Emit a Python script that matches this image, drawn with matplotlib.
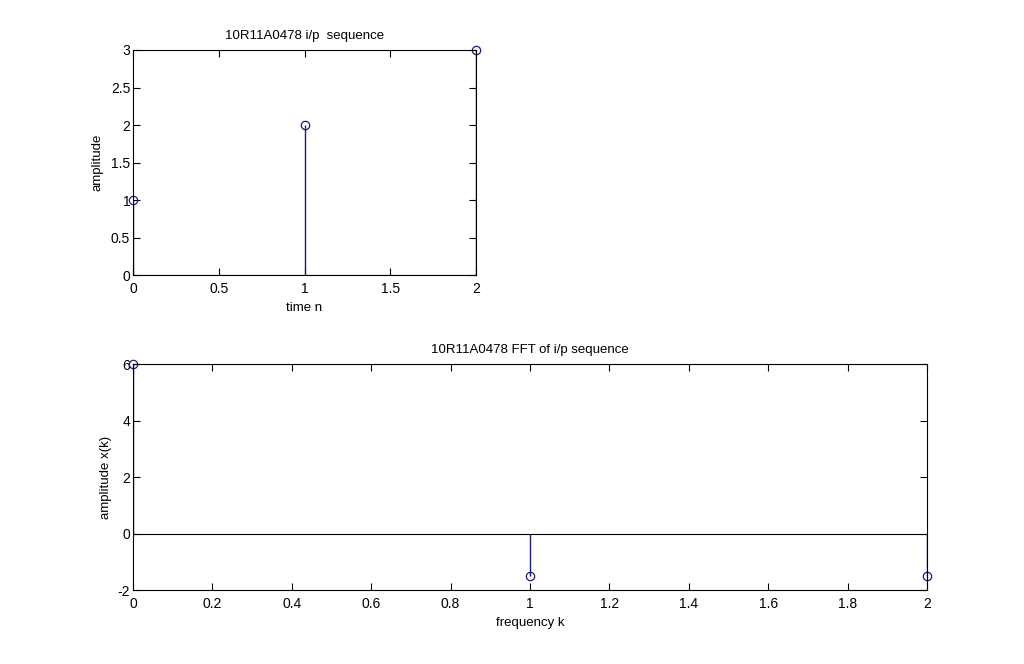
import numpy as np
import matplotlib
matplotlib.use('Agg')
import matplotlib.pyplot as plt

plt.rcParams['font.family'] = ['Liberation Sans', 'DejaVu Sans']
plt.rcParams['font.size'] = 10

# input sequence and the real part of its FFT
n = [0, 1, 2]
x_n = [1, 2, 3]
k = [0, 1, 2]
X_k = [6, -1.5, -1.5]

stem_col = '#1c1c78'

fig = plt.figure(figsize=(10.24, 6.64), dpi=100)


def style(ax):
    ax.tick_params(direction='in', top=True, right=True, length=5, width=0.8,
                   labelsize=10, colors='black')
    ax.tick_params(axis='x', pad=5)
    ax.tick_params(axis='y', pad=2)
    for s in ax.spines.values():
        s.set_linewidth(0.8)


# top: input sequence
ax1 = fig.add_axes([0.1299, 0.5858, 0.335, 0.3389])
ml, sl, bl = ax1.stem(n, x_n, basefmt='k-')
plt.setp(sl, color=stem_col, linewidth=1.0)
plt.setp(ml, color=stem_col, marker='o', markerfacecolor='none', markersize=6,
         markeredgewidth=0.9, clip_on=False)
plt.setp(bl, linewidth=0.8)
ax1.set_xlim(0, 2)
ax1.set_ylim(0, 3)
ax1.set_xticks([0, 0.5, 1, 1.5, 2])
ax1.set_xticklabels(['0', '0.5', '1', '1.5', '2'])
ax1.set_yticks([0, 0.5, 1, 1.5, 2, 2.5, 3])
ax1.set_yticklabels(['0', '0.5', '1', '1.5', '2', '2.5', '3'])
ax1.set_title('10R11A0478 i/p  sequence', fontsize=9.5, pad=8)
ax1.set_xlabel('time n', fontsize=9.5, labelpad=4)
ax1.set_ylabel('amplitude', fontsize=9.5, labelpad=5)
style(ax1)

# bottom: FFT
ax2 = fig.add_axes([0.1299, 0.1114, 0.7754, 0.3404])
ml, sl, bl = ax2.stem(k, X_k, basefmt='k-')
plt.setp(sl, color=stem_col, linewidth=1.0)
plt.setp(ml, color=stem_col, marker='o', markerfacecolor='none', markersize=6,
         markeredgewidth=0.9, clip_on=False)
plt.setp(bl, linewidth=0.8)
bl.set_xdata([0, 2])
ax2.set_xlim(0, 2)
ax2.set_ylim(-2, 6)
ticks = np.round(np.arange(0, 2.01, 0.2), 1)
ax2.set_xticks(ticks)
ax2.set_xticklabels(['0'] + ['%g' % t for t in ticks[1:]])
ax2.set_yticks([-2, 0, 2, 4, 6])
ax2.set_yticklabels(['-2', '0', '2', '4', '6'])
ax2.set_title('10R11A0478 FFT of i/p sequence', fontsize=9.5, pad=8)
ax2.set_xlabel('frequency k', fontsize=9.5, labelpad=4)
ax2.set_ylabel('amplitude x(k)', fontsize=9.5, labelpad=4)
style(ax2)

fig.savefig('out.png', dpi=100, facecolor='white')
